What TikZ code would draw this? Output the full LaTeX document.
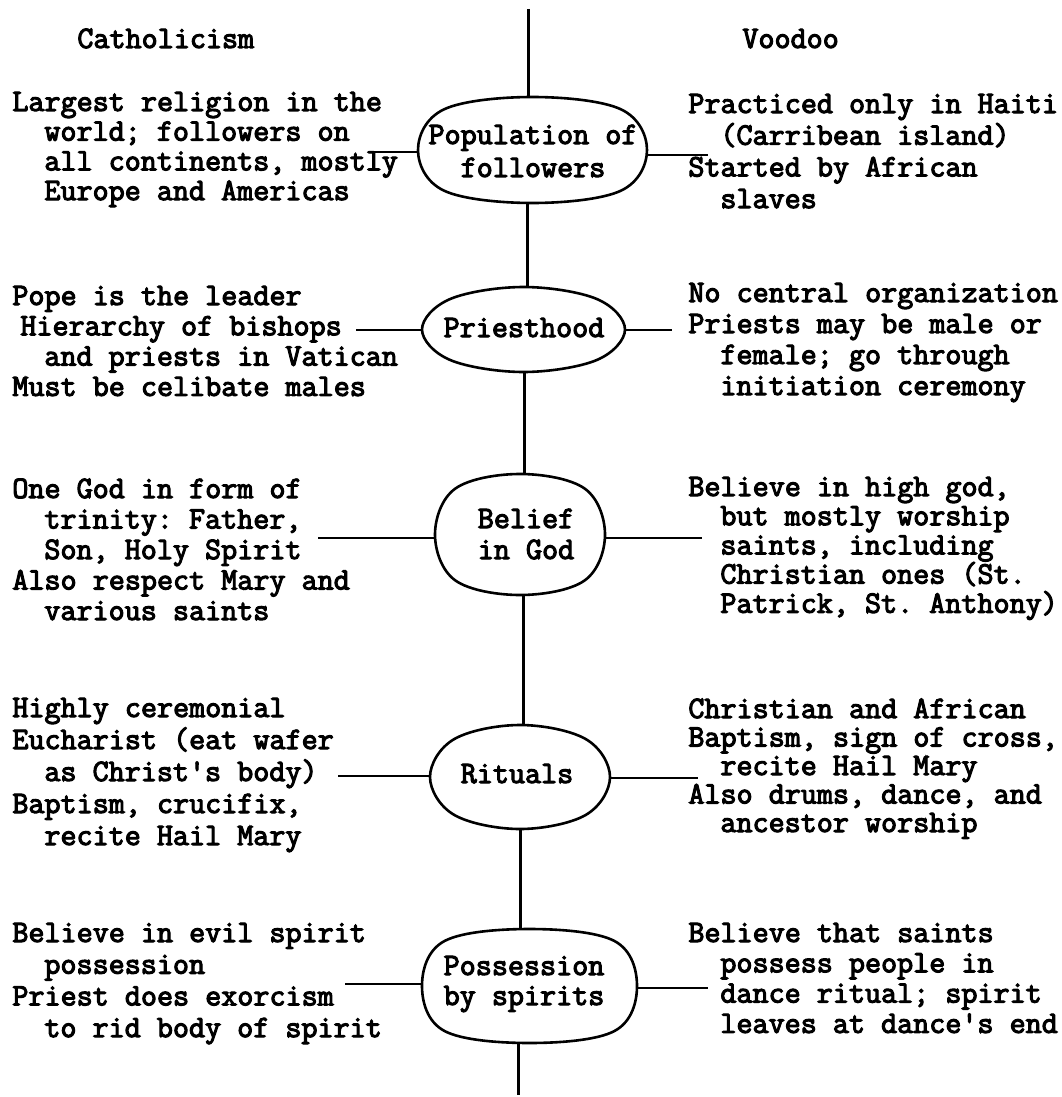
\documentclass[tikz,border=0pt]{standalone}
\usepackage{fontspec}
\newfontfamily\typewriter{Latin Modern Mono}[AutoFakeBold=3.5]
\usetikzlibrary{shapes.geometric}

% text blocks: first argument is the line pitch, rows separated by \cr
\newcommand\lblock[2]{\vtop{\baselineskip=#1\relax\lineskiplimit=-100pt\halign{##\hfil\cr#2\crcr}}}
\newcommand\cblock[2]{\vtop{\baselineskip=#1\relax\lineskiplimit=-100pt\halign{\hfil##\hfil\cr#2\crcr}}}
\newcommand\ind{\kern16pt}
\newcommand\q{\textquotesingle}

% hand-drawn looking oval around a hub node: name, half width, half height, squareness
\newcommand\blob[4]{%
  \draw[hubline, shift={(#1.center)}] plot[smooth cycle, tension=0.6] coordinates
    {(#2,0) ({#4*#2},{#4*#3}) (0,#3) ({-#4*#2},{#4*#3})
     (-#2,0) ({-#4*#2},{-#4*#3}) (0,-#3) ({#4*#2},{-#4*#3})};}

\tikzset{
  hub/.style={ellipse, draw=none, inner sep=0pt},
  hubline/.style={line width=1.3pt},
  spine/.style={line width=1.5pt},
  link/.style={line width=1.1pt},
  txt/.style={inner sep=0pt, font=\fontsize{15.6pt}{16pt}\selectfont\typewriter\bfseries\frenchspacing},
}

\begin{document}
\begin{tikzpicture}[x=0.5pt,y=-0.5pt]
\useasboundingbox[fill=white] (0,0) rectangle (1061,1097);

% hubs on the central spine
\node[hub, minimum width=114.5pt, minimum height=53pt]   (pop) at (532.5,150) {};
\node[hub, minimum width=101.5pt, minimum height=42.5pt] (pri) at (523.5,329.5) {};
\node[hub, minimum width=85pt,    minimum height=60.5pt] (bel) at (520,534.5) {};
\node[hub, minimum width=90pt,    minimum height=52pt]   (rit) at (520,777) {};
\node[hub, minimum width=107.5pt, minimum height=57pt]   (pos) at (529.5,986) {};

\blob{pop}{114.5}{53}{0.77}
\blob{pri}{101.5}{42.5}{0.72}
\blob{bel}{85}{60.5}{0.76}
\blob{rit}{90}{52}{0.73}
\blob{pos}{107.5}{57}{0.79}

\node[txt, anchor=base] (popt) at (533,144) {\cblock{16.5pt}{Population of\cr followers}};
\node[txt, anchor=base] (prit) at (524,337) {Priesthood};
\node[txt, anchor=base] (belt) at (526,528) {\cblock{15.5pt}{Belief\cr in God}};
\node[txt, anchor=base] (ritt) at (517,783) {Rituals};
\node[txt, anchor=base] (post) at (524,975) {\cblock{15pt}{Possession\cr by spirits}};

% spine
\coordinate (top) at (528,9);
\coordinate (bot) at (518,1095);
\coordinate (s1) at (527,0);
\coordinate (s2) at (524,0);
\coordinate (s3) at (523,0);
\coordinate (s4) at (520,0);
\draw[spine] (top) -- (pop.north -| top);
\draw[spine] (pop.south -| s1) -- (pri.north -| s1);
\draw[spine] (pri.south -| s2) -- (bel.north -| s2);
\draw[spine] (bel.south -| s3) -- (rit.north -| s3);
\draw[spine] (rit.south -| s4) -- (pos.north -| s4);
\draw[spine] (pos.south -| bot) -- (bot);

% column headings
\node[txt, anchor=base west] (cath) at (77,48) {Catholicism};
\node[txt, anchor=base west] (vood) at (742,48) {Voodoo};

% Catholicism column
\node[txt, anchor=base west] (l1) at (12,111) {\lblock{14.85pt}{Largest religion in the\cr
  \ind world; followers on\cr \ind all continents, mostly\cr \ind Europe and Americas}};
\node[txt, anchor=base west] (l2) at (12,305) {\lblock{15.15pt}{Pope is the leader\cr
  \kern4pt Hierarchy of bishops\cr \ind and priests in Vatican\cr Must be celibate males}};
\node[txt, anchor=base west] (l3) at (12,498) {\lblock{15.25pt}{One God in form of\cr
  \ind trinity: Father,\cr \ind Son, Holy Spirit\cr Also respect Mary and\cr \ind various saints}};
\node[txt, anchor=base west] (l4) at (12,717) {\lblock{16pt}{Highly ceremonial\cr
  Eucharist (eat wafer\cr \ind as Christ\q s body)\cr Baptism, crucifix,\cr \ind recite Hail Mary}};
\node[txt, anchor=base west] (l5) at (12,942) {\lblock{15.85pt}{Believe in evil spirit\cr
  \ind possession\cr Priest does exorcism\cr \ind to rid body of spirit}};

% Voodoo column
\node[txt, anchor=base west] (r1) at (688,113) {\lblock{15.85pt}{Practiced only in Haiti\cr
  \ind (Carribean island)\cr Started by African\cr \ind slaves}};
\node[txt, anchor=base west] (r2) at (688,302) {\lblock{15.5pt}{No central organization\cr
  Priests may be male or\cr \ind female; go through\cr \ind initiation ceremony}};
\node[txt, anchor=base west] (r3) at (688,496) {\lblock{14.6pt}{Believe in high god,\cr
  \ind but mostly worship\cr \ind saints, including\cr \ind Christian ones (St.\cr \ind Patrick, St. Anthony)}};
\node[txt, anchor=base west] (r4) at (688,718) {\lblock{14.25pt}{Christian and African\cr
  Baptism, sign of cross,\cr \ind recite Hail Mary\cr Also drums, dance, and\cr \ind ancestor worship}};
\node[txt, anchor=base west] (r5) at (688,942) {\lblock{15.15pt}{Believe that saints\cr
  \ind possess people in\cr \ind dance ritual; spirit\cr \ind leaves at dance\q s end}};

% connectors from hubs to the text columns
\coordinate (popL) at (372,152);
\coordinate (popR) at (708,155);
\coordinate (priL) at (356,330);
\coordinate (priR) at (672,330);
\coordinate (belL) at (318,538);
\coordinate (belR) at (702,538);
\coordinate (ritL) at (338,776);
\coordinate (ritR) at (698,778);
\coordinate (posL) at (345,984);
\coordinate (posR) at (708,988);
\draw[link] (popL) -- (pop.west |- popL);
\draw[link] (pop.east |- popR) -- (popR);
\draw[link] (priL) -- (pri.west |- priL);
\draw[link] (pri.east |- priR) -- (priR);
\draw[link] (belL) -- (bel.west |- belL);
\draw[link] (bel.east |- belR) -- (belR);
\draw[link] (ritL) -- (rit.west |- ritL);
\draw[link] (rit.east |- ritR) -- (ritR);
\draw[link] (posL) -- (pos.west |- posL);
\draw[link] (pos.east |- posR) -- (posR);
\end{tikzpicture}
\end{document}
